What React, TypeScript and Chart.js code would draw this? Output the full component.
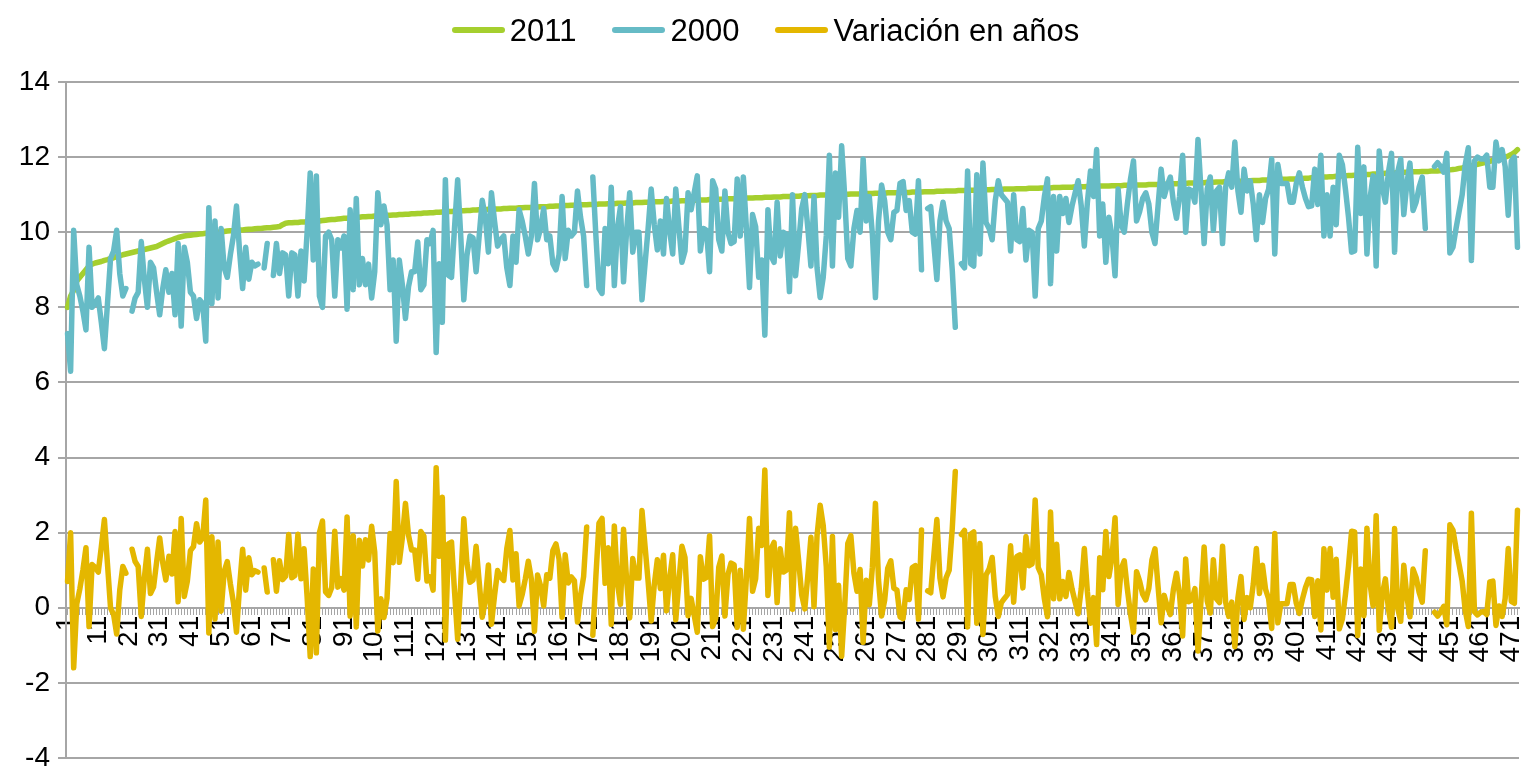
import React, { useEffect, useRef } from 'react';
import { Chart, registerables } from 'chart.js';

Chart.register(...registerables);

// ---------------- data ----------------
const SERIES_NAMES = ['2011', '2000', 'Variación en años'];

const VALUES_2011 = [
  8.0, 8.3, 8.45, 8.7, 8.8, 8.9, 9.0, 9.1, 9.15, 9.18,
  9.2, 9.22, 9.25, 9.27, 9.3, 9.32, 9.35, 9.37, 9.4, 9.42,
  9.44, 9.46, 9.48, 9.5, 9.52, 9.54, 9.56, 9.58, 9.6, 9.62,
  9.66, 9.7, 9.74, 9.77, 9.8, 9.83, 9.86, 9.88, 9.9, 9.91,
  9.92, 9.93, 9.94, 9.95, 9.96, 9.97, 9.98, 9.99, 10.0, 10.0,
  10.01, 10.02, 10.03, 10.04, 10.04, 10.05, 10.06, 10.06, 10.07, 10.08,
  10.08, 10.09, 10.1, 10.1, 10.11, 10.12, 10.12, 10.13, 10.14, 10.15,
  10.2, 10.24, 10.25, 10.25, 10.26, 10.26, 10.27, 10.27, 10.28, 10.28,
  10.29, 10.3, 10.3, 10.31, 10.32, 10.33, 10.34, 10.34, 10.35, 10.36,
  10.37, 10.37, 10.38, 10.39, 10.39, 10.4, 10.41, 10.41, 10.42, 10.42,
  10.43, 10.43, 10.44, 10.44, 10.45, 10.45, 10.46, 10.46, 10.47, 10.47,
  10.48, 10.48, 10.49, 10.49, 10.5, 10.5, 10.51, 10.51, 10.52, 10.52,
  10.53, 10.53, 10.54, 10.54, 10.55, 10.55, 10.56, 10.56, 10.57, 10.57,
  10.58, 10.58, 10.59, 10.59, 10.6, 10.6, 10.6, 10.61, 10.61, 10.62,
  10.62, 10.62, 10.63, 10.63, 10.64, 10.64, 10.64, 10.65, 10.65, 10.66,
  10.66, 10.66, 10.67, 10.67, 10.68, 10.68, 10.68, 10.69, 10.69, 10.7,
  10.7, 10.7, 10.71, 10.71, 10.72, 10.72, 10.72, 10.73, 10.73, 10.73,
  10.74, 10.74, 10.74, 10.75, 10.75, 10.75, 10.76, 10.76, 10.76, 10.77,
  10.77, 10.77, 10.78, 10.78, 10.78, 10.79, 10.79, 10.79, 10.8, 10.8,
  10.8, 10.81, 10.81, 10.81, 10.82, 10.82, 10.82, 10.83, 10.83, 10.83,
  10.84, 10.84, 10.84, 10.85, 10.85, 10.85, 10.86, 10.86, 10.86, 10.87,
  10.87, 10.87, 10.88, 10.88, 10.88, 10.89, 10.89, 10.89, 10.9, 10.9,
  10.9, 10.91, 10.91, 10.91, 10.92, 10.92, 10.92, 10.93, 10.93, 10.93,
  10.94, 10.94, 10.94, 10.95, 10.95, 10.95, 10.96, 10.96, 10.96, 10.97,
  10.97, 10.97, 10.98, 10.98, 10.98, 10.99, 10.99, 10.99, 11.0, 11.0,
  11.0, 11.0, 11.01, 11.01, 11.01, 11.02, 11.02, 11.02, 11.02, 11.03,
  11.03, 11.03, 11.03, 11.04, 11.04, 11.04, 11.04, 11.05, 11.05, 11.05,
  11.05, 11.06, 11.06, 11.06, 11.06, 11.07, 11.07, 11.07, 11.07, 11.08,
  11.08, 11.08, 11.08, 11.09, 11.09, 11.09, 11.1, 11.1, 11.1, 11.1,
  11.11, 11.11, 11.11, 11.12, 11.12, 11.12, 11.12, 11.13, 11.13, 11.13,
  11.13, 11.14, 11.14, 11.14, 11.14, 11.15, 11.15, 11.15, 11.15, 11.16,
  11.16, 11.16, 11.16, 11.17, 11.17, 11.17, 11.17, 11.18, 11.18, 11.18,
  11.18, 11.19, 11.19, 11.19, 11.2, 11.2, 11.2, 11.2, 11.21, 11.21,
  11.21, 11.21, 11.22, 11.22, 11.22, 11.22, 11.23, 11.23, 11.23, 11.23,
  11.24, 11.24, 11.24, 11.24, 11.25, 11.25, 11.25, 11.25, 11.26, 11.26,
  11.26, 11.26, 11.27, 11.27, 11.27, 11.27, 11.28, 11.28, 11.28, 11.29,
  11.29, 11.29, 11.3, 11.3, 11.3, 11.31, 11.31, 11.31, 11.32, 11.32,
  11.32, 11.33, 11.33, 11.33, 11.34, 11.34, 11.34, 11.35, 11.35, 11.35,
  11.36, 11.36, 11.36, 11.37, 11.37, 11.37, 11.38, 11.38, 11.38, 11.39,
  11.39, 11.39, 11.4, 11.4, 11.4, 11.41, 11.41, 11.41, 11.42, 11.42,
  11.42, 11.43, 11.43, 11.44, 11.44, 11.45, 11.45, 11.46, 11.46, 11.47,
  11.47, 11.48, 11.48, 11.49, 11.49, 11.5, 11.5, 11.51, 11.51, 11.52,
  11.52, 11.53, 11.53, 11.54, 11.54, 11.55, 11.55, 11.56, 11.56, 11.57,
  11.57, 11.58, 11.58, 11.59, 11.59, 11.6, 11.6, 11.6, 11.61, 11.61,
  11.61, 11.62, 11.62, 11.62, 11.63, 11.63, 11.63, 11.64, 11.64, 11.65,
  11.66, 11.67, 11.68, 11.7, 11.71, 11.73, 11.75, 11.77, 11.79, 11.81,
  11.83, 11.85, 11.87, 11.89, 11.91, 11.93, 11.95, 11.97, 12.0, 12.03,
  12.07, 12.12, 12.2,
];

const VALUES_2000 = [
  7.3, 6.3, 10.05, 8.6, 8.3, 7.9, 7.4, 9.6, 8.0, 8.1,
  8.25, 7.6, 6.9, 8.1, 9.3, 9.5, 10.05, 8.9, 8.3, 8.5,
  null, 7.9, 8.25, 8.4, 9.75, 8.75, 8.0, 9.2, 9.05, 8.4,
  7.8, 8.5, 9.0, 8.4, 8.9, 7.8, 9.7, 7.5, 9.6, 9.2,
  8.4, 8.3, 7.7, 8.2, 8.1, 7.1, 10.65, 8.1, 10.3, 8.25,
  10.1, 9.05, 8.8, 9.4, 9.9, 10.7, 9.5, 8.5, 9.6, 8.75,
  9.2, 9.1, 9.15, null, 9.05, 9.7, null, 8.85, 9.7, 8.9,
  9.45, 9.4, 8.3, 9.45, 9.4, 8.3, 9.5, 8.7, 10.0, 11.58,
  9.26, 11.5, 8.3, 8.0, 9.9, 10.0, 9.8, 8.3, 9.8, 9.58,
  9.9, 7.95, 10.6, 8.47, 10.9, 8.6, 9.3, 8.6, 9.15, 8.25,
  8.95, 11.05, 10.2, 10.7, 10.2, 8.47, 9.26, 7.1, 9.26, 8.6,
  7.7, 8.55, 8.95, 8.95, 9.74, 8.47, 8.6, 9.8, 9.7, 10.05,
  6.8, 9.16, 7.6, 11.4, 8.85, 8.8, 10.15, 11.4, 9.9, 8.2,
  9.37, 9.9, 9.85, 8.95, 9.9, 10.85, 10.4, 9.47, 11.05, 10.3,
  9.63, 9.8, 9.9, 9.05, 8.58, 9.9, 9.2, 10.6, 10.3, 9.9,
  9.42, 9.9, 11.3, 9.8, 10.1, 10.63, 9.8, 9.9, 9.16, 9.0,
  9.4, 10.95, 9.3, 10.05, 9.9, 10.0, 11.1, 10.4, 9.9, 8.58,
  null, 11.47, 9.9, 8.5, 8.37, 10.1, 9.16, 11.2, 8.58, 10.1,
  10.68, 8.68, 10.05, 11.05, 9.47, 10.0, 10.0, 8.2, 9.16, 10.1,
  11.15, 10.2, 9.53, 10.3, 9.42, 10.9, 10.05, 9.42, 11.15, 10.15,
  9.2, 9.5, 11.05, 10.6, 11.05, 11.5, 9.5, 10.1, 10.05, 8.95,
  11.37, 11.15, 9.8, 9.5, 11.1, 10.0, 9.7, 9.75, 11.42, 9.9,
  11.47, 10.1, 8.53, 10.47, 10.15, 8.8, 9.26, 7.26, 10.6, 9.37,
  9.2, 10.8, 9.37, 10.0, 9.95, 8.42, 11.0, 8.84, 9.7, 10.63,
  11.0, 10.1, 9.1, 10.95, 9.05, 8.26, 8.8, 9.9, 12.05, 9.1,
  11.58, 10.4, 12.3, 10.95, 9.3, 9.1, 10.1, 10.58, 10.0, 11.95,
  10.3, 10.95, 9.95, 8.26, 10.3, 11.26, 10.84, 10.0, 9.8, 10.53,
  10.58, 11.3, 11.35, 10.58, 10.84, 10.0, 9.95, 11.37, 9.0, null,
  10.63, 10.68, 9.7, 8.74, 10.3, 10.8, 10.3, 10.1, 9.0, 7.47,
  null, 9.16, 9.05, 11.63, 9.16, 9.1, 11.53, 9.42, 11.84, 10.26,
  10.1, 9.8, 10.84, 11.37, 11.0, 10.9, 10.8, 9.5, 11.0, 9.8,
  9.75, 10.63, 9.26, 10.05, 10.0, 8.3, 10.1, 10.3, 10.95, 11.42,
  8.63, 10.95, 9.5, 10.95, 10.5, 10.9, 10.26, 10.7, 11.05, 11.37,
  10.7, 9.63, 10.8, 11.63, 10.95, 12.2, 9.9, 10.75, 9.2, 10.4,
  9.9, 8.84, 11.15, 10.2, 10.0, 10.75, 11.4, 11.9, 10.3, 10.55,
  10.9, 11.05, 10.75, 10.0, 9.7, 10.7, 11.68, 10.95, 11.25, 11.47,
  10.8, 10.37, 10.95, 12.05, 10.0, 11.15, 11.1, 10.8, 12.47, 11.1,
  9.7, 11.15, 11.47, 10.05, 11.1, 11.2, 9.7, 11.2, 11.58, 11.2,
  12.4, 11.1, 10.53, 11.68, 11.1, 11.37, 10.75, 9.8, 11.0, 10.26,
  10.9, 11.15, 11.95, 9.42, 11.8, 11.3, 11.3, 11.3, 10.8, 10.8,
  11.3, 11.58, 11.2, 10.9, 10.68, 10.7, 11.68, 10.74, 12.05, 9.9,
  11.0, 9.9, 11.2, 10.2, 12.05, 11.8, 11.15, 10.4, 9.47, 9.5,
  12.26, 10.5, 11.74, 9.42, 10.9, 11.5, 9.1, 12.16, 11.2, 10.8,
  11.6, 12.1, 9.47, 11.6, 11.95, 10.47, 11.3, 11.84, 10.58, 10.8,
  11.2, 11.47, 10.1, null, null, 11.75, 11.85, 11.75, 11.6, 12.1,
  9.45, 9.6, 10.1, 10.55, 11.0, 11.8, 12.25, 9.25, 11.9, 12.0,
  11.95, 11.95, 12.05, 11.2, 11.2, 12.4, 11.9, 12.2, 11.75, 10.45,
  11.9, 12.0, 9.6,
];

const VALUES_VARIATION = [
  0.7, 2.0, -1.6, 0.1, 0.5, 1.0, 1.6, -0.5, 1.15, 1.08,
  0.95, 1.62, 2.35, 1.17, 0.0, -0.18, -0.7, 0.47, 1.1, 0.92,
  null, 1.56, 1.23, 1.1, -0.23, 0.79, 1.56, 0.38, 0.55, 1.22,
  1.86, 1.2, 0.74, 1.37, 0.9, 2.03, 0.16, 2.38, 0.3, 0.71,
  1.52, 1.63, 2.24, 1.75, 1.86, 2.87, -0.67, 1.89, -0.3, 1.75,
  -0.09, 0.97, 1.23, 0.64, 0.14, -0.65, 0.56, 1.56, 0.47, 1.33,
  0.88, 0.99, 0.95, null, 1.06, 0.42, null, 1.28, 0.44, 1.25,
  0.75, 0.84, 1.95, 0.8, 0.86, 1.96, 0.77, 1.57, 0.28, -1.3,
  1.03, -1.2, 2.0, 2.31, 0.42, 0.33, 0.54, 2.04, 0.55, 0.78,
  0.47, 2.42, -0.22, 1.92, -0.51, 1.8, 1.11, 1.81, 1.27, 2.17,
  1.48, -0.62, 0.24, -0.26, 0.25, 1.98, 1.2, 3.36, 1.21, 1.87,
  2.78, 1.93, 1.54, 1.54, 0.76, 2.03, 1.91, 0.71, 0.82, 0.47,
  3.73, 1.37, 2.94, -0.86, 1.7, 1.75, 0.41, -0.84, 0.67, 2.37,
  1.21, 0.68, 0.74, 1.64, 0.7, -0.25, 0.2, 1.14, -0.44, 0.32,
  0.99, 0.82, 0.73, 1.58, 2.06, 0.74, 1.44, 0.05, 0.35, 0.76,
  1.24, 0.76, -0.63, 0.87, 0.58, 0.05, 0.88, 0.79, 1.53, 1.7,
  1.3, -0.25, 1.41, 0.66, 0.82, 0.72, -0.38, 0.33, 0.83, 2.15,
  null, -0.73, 0.84, 2.25, 2.38, 0.65, 1.6, -0.44, 2.18, 0.67,
  0.09, 2.09, 0.73, -0.27, 1.31, 0.79, 0.79, 2.59, 1.64, 0.7,
  -0.35, 0.61, 1.28, 0.51, 1.4, -0.08, 0.77, 1.41, -0.32, 0.68,
  1.64, 1.34, -0.21, 0.25, -0.2, -0.65, 1.36, 0.76, 0.81, 1.92,
  -0.5, -0.28, 1.08, 1.38, -0.22, 0.89, 1.19, 1.14, -0.52, 1.0,
  -0.57, 0.81, 2.38, 0.44, 0.77, 2.12, 1.66, 3.67, 0.33, 1.56,
  1.74, 0.14, 1.57, 0.95, 1.0, 2.53, -0.04, 2.12, 1.26, 0.34,
  -0.03, 0.87, 1.88, 0.03, 1.93, 2.73, 2.19, 1.09, -1.05, 1.9,
  -0.58, 0.6, -1.29, 0.06, 1.71, 1.92, 0.92, 0.44, 1.02, -0.92,
  0.73, 0.08, 1.08, 2.78, 0.74, -0.22, 0.2, 1.05, 1.25, 0.52,
  0.47, -0.24, -0.29, 0.48, 0.22, 1.07, 1.12, -0.3, 2.07, null,
  0.45, 0.4, 1.38, 2.35, 0.79, 0.29, 0.8, 1.0, 2.1, 3.63,
  null, 1.95, 2.06, -0.51, 1.96, 2.02, -0.41, 1.71, -0.71, 0.87,
  1.03, 1.34, 0.3, -0.23, 0.14, 0.25, 0.35, 1.65, 0.15, 1.36,
  1.41, 0.53, 1.9, 1.12, 1.17, 2.87, 1.07, 0.88, 0.23, -0.24,
  2.55, 0.24, 1.69, 0.24, 0.7, 0.3, 0.94, 0.5, 0.16, -0.16,
  0.51, 1.58, 0.42, -0.41, 0.27, -0.98, 1.33, 0.48, 2.03, 0.83,
  1.34, 2.4, 0.09, 1.04, 1.25, 0.5, -0.15, -0.65, 0.96, 0.71,
  0.36, 0.21, 0.52, 1.27, 1.57, 0.57, -0.4, 0.33, 0.03, -0.18,
  0.49, 0.92, 0.35, -0.75, 1.3, 0.16, 0.21, 0.51, -1.15, 0.22,
  1.62, 0.18, -0.14, 1.28, 0.24, 0.14, 1.64, 0.15, -0.23, 0.15,
  -1.04, 0.26, 0.83, -0.31, 0.27, 0.0, 0.63, 1.58, 0.38, 1.13,
  0.49, 0.24, -0.55, 1.98, -0.4, 0.11, 0.11, 0.11, 0.62, 0.62,
  0.12, -0.15, 0.23, 0.54, 0.76, 0.75, -0.23, 0.72, -0.59, 1.57,
  0.47, 1.58, 0.28, 1.29, -0.56, -0.3, 0.35, 1.11, 2.04, 2.02,
  -0.74, 1.03, -0.21, 2.12, 0.64, 0.05, 2.45, -0.6, 0.36, 0.77,
  -0.03, -0.52, 2.11, -0.01, -0.36, 1.13, 0.3, -0.24, 1.03, 0.81,
  0.41, 0.15, 1.52, null, null, -0.12, -0.22, -0.11, 0.04, -0.45,
  2.21, 2.07, 1.58, 1.15, 0.71, -0.07, -0.5, 2.52, -0.11, -0.19,
  -0.12, -0.1, -0.18, 0.69, 0.71, -0.47, 0.05, -0.23, 0.25, 1.58,
  0.17, 0.12, 2.6,
];

// category labels 1..N (one category per observation)
const CATEGORIES = VALUES_2011.map((_, i) => String(i + 1));
const LABEL_EVERY = 10;

const Y_MIN = -4;
const Y_MAX = 14;
const Y_STEP = 2;

// ---------------- styles ----------------
const COLORS = ['#A5CF2E', '#66BBC6', '#E4B700'];
const GRID = '#A6A6A6';
const FONT = "'Liberation Sans', Arial, sans-serif";

export default function App() {
  const canvasRef = useRef<HTMLCanvasElement | null>(null);

  useEffect(() => {
    if (!canvasRef.current) return;
    const seriesValues = [VALUES_2011, VALUES_2000, VALUES_VARIATION];
    const chart = new Chart(canvasRef.current, {
      type: 'line',
      data: {
        labels: CATEGORIES,
        datasets: seriesValues.map((vals, i) => ({
          label: SERIES_NAMES[i],
          data: vals,
          borderColor: COLORS[i],
          backgroundColor: COLORS[i],
          borderWidth: 5.5,
          pointRadius: 0,
          pointHoverRadius: 0,
          tension: 0,
          spanGaps: false,
          borderJoinStyle: 'round' as const,
          borderCapStyle: 'round' as const,
          order: 3 - i,
        })),
      },
      options: {
        responsive: true,
        maintainAspectRatio: false,
        animation: false,
        events: [],
        layout: { padding: { top: 82, right: 10, bottom: 10, left: 0 } },
        plugins: {
          legend: { display: false },
          tooltip: { enabled: false },
        },
        scales: {
          x: {
            type: 'category',
            position: { y: 0 } as any,
            offset: true,
            grid: {
              display: true,
              drawOnChartArea: false,
              drawTicks: true,
              tickLength: 6,
              color: GRID,
              lineWidth: 1,
            },
            border: { display: true, color: GRID, width: 2 },
            ticks: {
              autoSkip: false,
              minRotation: 90,
              maxRotation: 90,
              padding: 2,
              color: '#000',
              font: { family: FONT, size: 28 },
              callback: (_v: any, index: number) =>
                index % LABEL_EVERY === 0 ? CATEGORIES[index] : '',
            },
            afterFit: (scale: any) => {
              scale.paddingLeft = 0;
              scale.paddingRight = 0;
            },
          },
          y: {
            min: Y_MIN,
            max: Y_MAX,
            ticks: {
              stepSize: Y_STEP,
              color: '#000',
              padding: 8,
              font: { family: FONT, size: 28 },
            },
            grid: {
              color: GRID,
              lineWidth: 2,
              tickLength: 8,
              drawTicks: true,
            },
            border: { display: true, color: GRID, width: 2 },
            afterFit: (scale: any) => {
              scale.width = 66;
              scale.paddingTop = 0;
              scale.paddingBottom = 0;
            },
          },
        },
      },
    });
    return () => chart.destroy();
  }, []);

  return (
    <div
      style={{
        position: 'fixed',
        left: 0,
        top: 0,
        width: 1529,
        height: 768,
        background: '#fff',
      }}
    >
      <canvas ref={canvasRef} />
      <div
        style={{
          position: 'absolute',
          left: 0,
          top: 0,
          width: 1529,
          height: 60,
          display: 'flex',
          justifyContent: 'center',
          alignItems: 'center',
          gap: 36,
          paddingLeft: 2,
          boxSizing: 'border-box',
          pointerEvents: 'none',
        }}
      >
        {SERIES_NAMES.map((name, i) => (
          <div key={name} style={{ display: 'flex', alignItems: 'center' }}>
            <span
              style={{
                display: 'inline-block',
                width: 53,
                height: 6,
                borderRadius: 3,
                background: COLORS[i],
                marginRight: 5,
              }}
            />
            <span
              style={{
                fontFamily: FONT,
                fontSize: 31,
                lineHeight: 1,
                color: '#000',
                whiteSpace: 'nowrap',
              }}
            >
              {name}
            </span>
          </div>
        ))}
      </div>
    </div>
  );
}
